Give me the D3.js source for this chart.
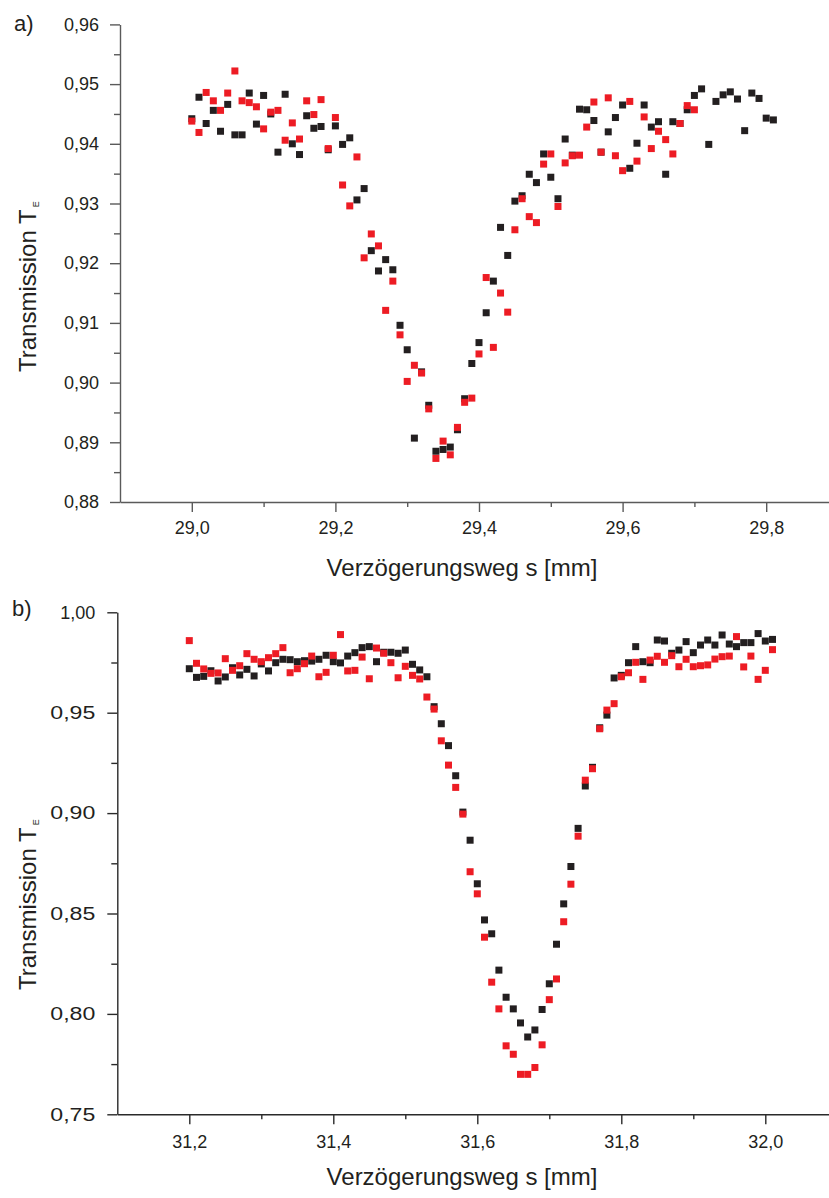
<!DOCTYPE html>
<html>
<head>
<meta charset="utf-8">
<script src="https://cdn.jsdelivr.net/npm/d3@7"></script>
<style>
  html, body { margin: 0; padding: 0; background: #fff; }
  svg { display: block; }
  text { font-family: "Liberation Sans", Arial, Helvetica, sans-serif; fill: #231f20; }
</style>
</head>
<body>
<svg id="chart" width="829" height="1198"></svg>
<script>
// ---- Panel a) : delay path 29.0 – 29.8 mm ----
const xA = [29.00,29.01,29.02,29.03,29.04,29.05,29.06,29.07,29.08,29.09,
            29.10,29.11,29.12,29.13,29.14,29.15,29.16,29.17,29.18,29.19,
            29.20,29.21,29.22,29.23,29.24,29.25,29.26,29.27,29.28,29.29,
            29.30,29.31,29.32,29.33,29.34,29.35,29.36,29.37,29.38,29.39,
            29.40,29.41,29.42,29.43,29.44,29.45,29.46,29.47,29.48,29.49,
            29.50,29.51,29.52,29.53,29.54,29.55,29.56,29.57,29.58,29.59,
            29.60,29.61,29.62,29.63,29.64,29.65,29.66,29.67,29.68,29.69,
            29.70,29.71,29.72,29.73,29.74,29.75,29.76,29.77,29.78,29.79,
            29.80,29.81];
const blackA = [0.9442,0.9478,0.9434,0.9456,0.9421,0.9466,0.9415,0.9415,0.9485,0.9433,
                0.9481,0.9450,0.9386,0.9483,0.9400,0.9382,0.9447,0.9426,0.9429,0.9390,
                0.9430,0.9399,0.9410,0.9306,0.9325,0.9221,0.9187,0.9206,0.9189,0.9096,
                0.9055,0.8907,0.9018,0.8962,0.8885,0.8888,0.8892,0.8921,0.8973,0.9032,
                0.9067,0.9117,0.9170,0.9260,0.9213,0.9304,0.9313,0.9349,0.9335,0.9383,
                0.9344,0.9308,0.9408,0.9381,0.9458,0.9457,0.9439,0.9386,0.9420,0.9444,
                0.9465,0.9359,0.9401,0.9465,0.9428,0.9437,0.9349,0.9437,0.9434,0.9457,
                0.9481,0.9492,0.9399,0.9471,0.9482,0.9487,0.9475,0.9422,0.9485,0.9476,
                0.9443,0.9440];
const redA = [0.9438,0.9419,0.9486,0.9472,0.9456,0.9485,0.9522,0.9472,0.9469,0.9462,
              0.9425,0.9453,0.9456,0.9406,0.9435,0.9408,0.9472,0.9449,0.9474,0.9392,
              0.9444,0.9331,0.9296,0.9378,0.9209,0.9249,0.9229,0.9121,0.9170,0.9080,
              0.9002,0.9029,0.9016,0.8956,0.8873,0.8902,0.8879,0.8925,0.8967,0.8974,
              0.9048,0.9176,0.9059,0.9150,0.9118,0.9256,0.9308,0.9278,0.9268,0.9366,
              0.9383,0.9295,0.9368,0.9380,0.9381,0.9428,0.9470,0.9386,0.9477,0.9380,
              0.9355,0.9471,0.9371,0.9445,0.9392,0.9421,0.9407,0.9383,0.9434,0.9464,
              0.9457];
const yTicksA = [0.88,0.89,0.90,0.91,0.92,0.93,0.94,0.95,0.96];
const yMinorA = [0.885,0.895,0.905,0.915,0.925,0.935,0.945,0.955];
const xTicksA = [29.0,29.2,29.4,29.6,29.8];
const xMinorA = [29.1,29.3,29.5,29.7];

// ---- Panel b) : delay path 31.2 – 32.0 mm ----
const xB = [31.20,31.21,31.22,31.23,31.24,31.25,31.26,31.27,31.28,31.29,
            31.30,31.31,31.32,31.33,31.34,31.35,31.36,31.37,31.38,31.39,
            31.40,31.41,31.42,31.43,31.44,31.45,31.46,31.47,31.48,31.49,
            31.50,31.51,31.52,31.53,31.54,31.55,31.56,31.57,31.58,31.59,
            31.60,31.61,31.62,31.63,31.64,31.65,31.66,31.67,31.68,31.69,
            31.70,31.71,31.72,31.73,31.74,31.75,31.76,31.77,31.78,31.79,
            31.80,31.81,31.82,31.83,31.84,31.85,31.86,31.87,31.88,31.89,
            31.90,31.91,31.92,31.93,31.94,31.95,31.96,31.97,31.98,31.99,
            32.00,32.01];
const blackB = [0.9719,0.9676,0.9681,0.9709,0.9658,0.9678,0.9724,0.9688,0.9716,0.9683,
                0.9743,0.9708,0.9749,0.9766,0.9764,0.9754,0.9759,0.9757,0.9766,0.9786,
                0.9754,0.9748,0.9782,0.9799,0.9824,0.9829,0.9754,0.9801,0.9801,0.9796,
                0.9812,0.9741,0.9713,0.9679,0.9530,0.9445,0.9336,0.9186,0.9005,0.8865,
                0.8648,0.8468,0.8399,0.8218,0.8083,0.8025,0.7955,0.7885,0.7920,0.8022,
                0.8150,0.8347,0.8548,0.8734,0.8924,0.9135,0.9228,0.9425,0.9488,0.9673,
                0.9686,0.9749,0.9829,0.9754,0.9749,0.9862,0.9857,0.9796,0.9812,0.9854,
                0.9799,0.9837,0.9862,0.9837,0.9887,0.9842,0.9829,0.9849,0.9849,0.9894,
                0.9857,0.9865];
const redB = [0.9859,0.9746,0.9718,0.9696,0.9698,0.9769,0.9711,0.9734,0.9794,0.9766,
              0.9754,0.9774,0.9794,0.9824,0.9699,0.9719,0.9744,0.9782,0.9679,0.9701,
              0.9786,0.9889,0.9708,0.9711,0.9777,0.9669,0.9822,0.9796,0.9749,0.9674,
              0.9731,0.9686,0.9668,0.9578,0.9518,0.9360,0.9239,0.9128,0.8995,0.8708,
              0.8598,0.8382,0.8158,0.8025,0.7841,0.7799,0.7699,0.7699,0.7733,0.7846,
              0.8071,0.8174,0.8459,0.8646,0.8885,0.9164,0.9221,0.9420,0.9513,0.9545,
              0.9679,0.9699,0.9751,0.9666,0.9762,0.9781,0.9751,0.9784,0.9729,0.9766,
              0.9729,0.9734,0.9738,0.9767,0.9779,0.9782,0.9879,0.9728,0.9782,0.9666,
              0.9711,0.9814];
const yTicksB = [0.75,0.80,0.85,0.90,0.95,1.00];
const yMinorB = [0.775,0.825,0.875,0.925,0.975];
const xTicksB = [31.2,31.4,31.6,31.8,32.0];
const xMinorB = [31.3,31.5,31.7,31.9];

const panelLabels = ["a)", "b)"];
const xTitle = "Verzögerungsweg s [mm]";
const yTitle = "Transmission T";
const yTitleSub = "E";

const BLACK = "#231f20";
const RED = "#ed1c24";

// German number format: decimal comma
const de = d3.formatLocale({decimal: ",", thousands: ".", grouping: [3], currency: ["", " €"]});
const f1 = de.format(".1f");
const f2 = de.format(".2f");

const svg = d3.select("#chart");

function drawPanel(cfg) {
  const g = svg.append("g");
  const x = d3.scaleLinear().domain(cfg.xDomain).range(cfg.xRange);
  const y = d3.scaleLinear().domain(cfg.yDomain).range(cfg.yRange);
  const x0 = cfg.xRange[0];
  const y0 = cfg.yRange[0];

  // minor ticks
  g.append("g").attr("transform", `translate(${x0},0)`)
    .call(d3.axisLeft(y).tickValues(cfg.yMinor).tickFormat("").tickSize(6).tickSizeOuter(0))
    .call(a => a.select(".domain").remove());
  g.append("g").attr("transform", `translate(0,${y0})`)
    .call(d3.axisBottom(x).tickValues(cfg.xMinor).tickFormat("").tickSize(5).tickSizeOuter(0))
    .call(a => a.select(".domain").remove());

  // major ticks with labels
  const yAxisG = g.append("g").attr("transform", `translate(${x0},0)`)
    .call(d3.axisLeft(y).tickValues(cfg.yTicks).tickFormat(f2).tickSize(10).tickPadding(cfg.yPad).tickSizeOuter(0));
  g.append("g").attr("transform", `translate(0,${y0})`)
    .call(d3.axisBottom(x).tickValues(cfg.xTicks).tickFormat(f1).tickSize(10).tickPadding(cfg.xPad).tickSizeOuter(0));

  g.selectAll(".tick line, .domain").attr("stroke", cfg.axisColor).attr("stroke-width", 1.4);
  g.selectAll(".tick text").attr("font-size", cfg.tickFont).attr("fill", "#231f20")
    .attr("font-family", "'Liberation Sans', Arial, sans-serif");

  // wider set y labels (values below 1)
  if (cfg.yLabelWidth) {
    yAxisG.selectAll(".tick text")
      .filter(d => d < 1)
      .attr("textLength", cfg.yLabelWidth)
      .attr("lengthAdjust", "spacingAndGlyphs");
  }

  // data squares: black series first, red series on top
  const size = 7;
  const series = [
    {vals: cfg.black, color: BLACK},
    {vals: cfg.red, color: RED}
  ];
  series.forEach(s => {
    g.append("g").selectAll("rect")
      .data(s.vals.map((v, i) => [cfg.xs[i], v]))
      .join("rect")
      .attr("x", d => x(d[0]) - size / 2)
      .attr("y", d => y(d[1]) - size / 2)
      .attr("width", size)
      .attr("height", size)
      .attr("fill", s.color);
  });

  // axis titles
  g.append("text")
    .attr("x", cfg.xTitlePos[0]).attr("y", cfg.xTitlePos[1])
    .attr("text-anchor", "middle")
    .attr("font-size", 24)
    .text(xTitle);

  const yt = g.append("text")
    .attr("transform", `translate(${cfg.yTitlePos[0]},${cfg.yTitlePos[1]}) rotate(-90)`)
    .attr("text-anchor", "start")
    .attr("font-size", 24);
  yt.append("tspan").text(yTitle);
  yt.append("tspan").attr("font-size", 9).attr("dy", 3).attr("dx", 2).text(yTitleSub);

  // panel letter
  g.append("text")
    .attr("x", cfg.labelPos[0]).attr("y", cfg.labelPos[1])
    .attr("font-size", 22)
    .text(cfg.label);
}

drawPanel({
  xs: xA, black: blackA, red: redA,
  xDomain: [28.9, 29.9], xRange: [120, 838],
  yDomain: [0.88, 0.96], yRange: [502, 24.4],
  yTicks: yTicksA, yMinor: yMinorA, xTicks: xTicksA, xMinor: xMinorA,
  yPad: 11, xPad: 9, tickFont: 18, axisColor: "#5a5a5a",
  xTitlePos: [462, 576], yTitlePos: [36, 372], labelPos: [14, 31],
  label: panelLabels[0]
});

drawPanel({
  xs: xB, black: blackB, red: redB,
  xDomain: [31.1, 32.1], xRange: [117.3, 837.3],
  yDomain: [0.75, 1.00], yRange: [1114.3, 612.3],
  yTicks: yTicksB, yMinor: yMinorB, xTicks: xTicksB, xMinor: xMinorB,
  yPad: 12, xPad: 11, tickFont: 18, axisColor: "#2a2a2a", yLabelWidth: 45,
  xTitlePos: [462, 1185], yTitlePos: [36, 990], labelPos: [12, 616],
  label: panelLabels[1]
});
</script>
</body>
</html>
